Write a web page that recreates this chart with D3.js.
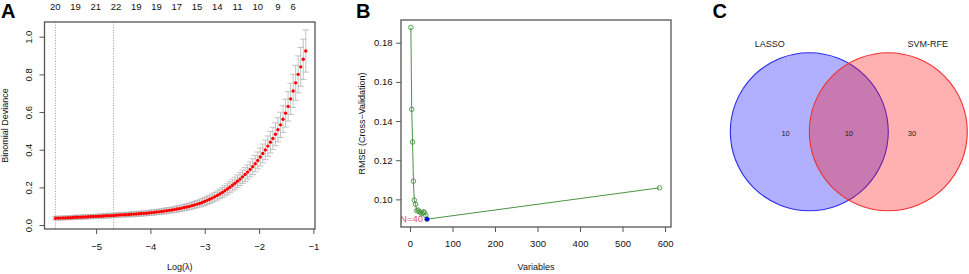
<!DOCTYPE html>
<html>
<head>
<meta charset="utf-8">
<script src="https://cdn.jsdelivr.net/npm/d3@7"></script>
<style>
  body { margin: 0; background: #fff; }
  svg { display: block; font-family: "Liberation Sans", Arial, sans-serif; }
</style>
</head>
<body>
<svg id="fig"></svg>
<script>
const WIDTH = 969;
const HEIGHT = 274;

// ---- panel A: LASSO cross-validation (glmnet) ----
const logLambda = [
  -5.750, -5.703, -5.657, -5.610, -5.564, -5.517, -5.471, -5.424, -5.377, -5.331,
  -5.284, -5.238, -5.191, -5.145, -5.098, -5.051, -5.005, -4.958, -4.912, -4.865,
  -4.819, -4.772, -4.725, -4.679, -4.632, -4.586, -4.539, -4.493, -4.446, -4.399,
  -4.353, -4.306, -4.260, -4.213, -4.167, -4.120, -4.073, -4.027, -3.980, -3.934,
  -3.887, -3.841, -3.794, -3.747, -3.701, -3.654, -3.608, -3.561, -3.515, -3.468,
  -3.421, -3.375, -3.328, -3.282, -3.235, -3.189, -3.142, -3.095, -3.049, -3.002,
  -2.956, -2.909, -2.863, -2.816, -2.769, -2.723, -2.676, -2.630, -2.583, -2.537,
  -2.490, -2.443, -2.397, -2.350, -2.304, -2.257, -2.211, -2.164, -2.117, -2.071,
  -2.024, -1.978, -1.931, -1.885, -1.838, -1.791, -1.745, -1.698, -1.652, -1.605,
  -1.559, -1.512, -1.465, -1.419, -1.372, -1.326, -1.279, -1.233, -1.186, -1.140,
];
const deviance = [
  0.036, 0.037, 0.037, 0.038, 0.038, 0.039, 0.039, 0.040, 0.041, 0.041,
  0.042, 0.043, 0.043, 0.044, 0.045, 0.045, 0.046, 0.047, 0.047, 0.048,
  0.049, 0.050, 0.050, 0.051, 0.052, 0.053, 0.054, 0.055, 0.055, 0.056,
  0.057, 0.058, 0.059, 0.060, 0.061, 0.062, 0.063, 0.064, 0.066, 0.067,
  0.069, 0.070, 0.072, 0.074, 0.076, 0.078, 0.080, 0.082, 0.085, 0.087,
  0.090, 0.093, 0.096, 0.099, 0.103, 0.107, 0.111, 0.115, 0.120, 0.125,
  0.131, 0.137, 0.143, 0.150, 0.157, 0.165, 0.173, 0.182, 0.191, 0.201,
  0.211, 0.222, 0.233, 0.244, 0.256, 0.268, 0.281, 0.295, 0.310, 0.326,
  0.343, 0.361, 0.380, 0.399, 0.419, 0.440, 0.460, 0.482, 0.506, 0.532,
  0.562, 0.594, 0.630, 0.670, 0.712, 0.755, 0.800, 0.840, 0.880, 0.924,
];
const devianceSE = [
  0.010, 0.010, 0.010, 0.010, 0.010, 0.010, 0.010, 0.011, 0.011, 0.011,
  0.011, 0.011, 0.011, 0.011, 0.011, 0.011, 0.011, 0.011, 0.011, 0.012,
  0.012, 0.012, 0.012, 0.012, 0.012, 0.012, 0.012, 0.012, 0.012, 0.012,
  0.013, 0.013, 0.013, 0.013, 0.013, 0.013, 0.013, 0.013, 0.014, 0.014,
  0.014, 0.014, 0.014, 0.015, 0.015, 0.015, 0.015, 0.015, 0.016, 0.016,
  0.016, 0.017, 0.017, 0.017, 0.018, 0.018, 0.019, 0.019, 0.020, 0.020,
  0.021, 0.022, 0.022, 0.023, 0.024, 0.025, 0.026, 0.027, 0.028, 0.029,
  0.030, 0.032, 0.033, 0.034, 0.035, 0.037, 0.038, 0.040, 0.042, 0.043,
  0.045, 0.048, 0.050, 0.052, 0.054, 0.057, 0.059, 0.061, 0.064, 0.067,
  0.071, 0.074, 0.078, 0.083, 0.088, 0.093, 0.098, 0.103, 0.107, 0.112,
];
const lambdaMin = -5.750;
const lambda1se = -4.679;
const nzeroAt = [-5.750, -5.377, -5.005, -4.632, -4.260, -3.887, -3.515, -3.142, -2.769, -2.397, -2.024, -1.652, -1.372];
const nzeroLabels = ["20", "19", "21", "22", "19", "19", "17", "15", "14", "11", "10", "9", "6"];
const xTicksA = [-5, -4, -3, -2, -1];
const yTicksA = [0, 0.2, 0.4, 0.6, 0.8, 1.0];

// ---- panel B: SVM-RFE ----
const rfeVariables = [2, 4, 6, 8, 10, 13, 16, 19, 22, 25, 28, 31, 34, 37, 40, 587];
const rfeRMSE = [0.1878, 0.1460, 0.1293, 0.1093, 0.0996, 0.0975, 0.0942, 0.0945, 0.0937, 0.0932, 0.0928, 0.0936, 0.0933, 0.0918, 0.0899, 0.1059];
const xTicksB = [0, 100, 200, 300, 400, 500, 600];
const yTicksB = [0.10, 0.12, 0.14, 0.16, 0.18];

// ---- panel C: Venn ----
const vennSets = ["LASSO", "SVM-RFE"];
const vennCounts = [10, 10, 30]; // LASSO only, both, SVM-RFE only

const FONT = 9;
const TICK_FONT = 9.5;
const AXIS_COL = "#555";
const TEXT_COL = "#111";

const svg = d3.select("#fig").attr("width", WIDTH).attr("height", HEIGHT);

function panelLetter(x, t) {
  svg.append("text").attr("x", x).attr("y", 18).attr("font-size", 20)
    .attr("font-weight", "bold").attr("fill", "#000").text(t);
}

function box(b) {
  svg.append("rect").attr("x", b.left).attr("y", b.top)
    .attr("width", b.right - b.left).attr("height", b.bottom - b.top)
    .attr("fill", "none").attr("stroke", AXIS_COL).attr("stroke-width", 1.3);
}

function styleAxis(g) {
  g.select(".domain").remove();
  g.selectAll(".tick line").attr("stroke", AXIS_COL).attr("stroke-width", 1);
  g.selectAll(".tick text").attr("fill", TEXT_COL).attr("font-size", TICK_FONT);
  g.attr("font-family", null);
}

// ================= A =================
const A = { left: 44.5, right: 315, top: 22, bottom: 229 };
const xA = d3.scaleLinear([-5.95, -0.97], [A.left, A.right]);
const yA = d3.scaleLinear([-0.021, 1.078], [A.bottom, A.top]);
panelLetter(1, "A");

const gA = svg.append("g");
gA.selectAll(".vline").data([lambdaMin, lambda1se]).join("line")
  .attr("x1", d => xA(d)).attr("x2", d => xA(d))
  .attr("y1", A.top).attr("y2", A.bottom)
  .attr("stroke", "#888").attr("stroke-width", 0.9).attr("stroke-dasharray", "1,1.6");

const cvA = logLambda.map((x, i) => ({ x, y: deviance[i], se: devianceSE[i] }));
const capW = 0.06;
const bars = gA.append("g").attr("stroke", "#b4b4b4").attr("stroke-width", 0.8);
bars.selectAll(".eb").data(cvA).join("line")
  .attr("x1", d => xA(d.x)).attr("x2", d => xA(d.x))
  .attr("y1", d => yA(d.y + d.se)).attr("y2", d => yA(d.y - d.se));
bars.selectAll(".cu").data(cvA).join("line")
  .attr("x1", d => xA(d.x - capW)).attr("x2", d => xA(d.x + capW))
  .attr("y1", d => yA(d.y + d.se)).attr("y2", d => yA(d.y + d.se));
bars.selectAll(".cl").data(cvA).join("line")
  .attr("x1", d => xA(d.x - capW)).attr("x2", d => xA(d.x + capW))
  .attr("y1", d => yA(d.y - d.se)).attr("y2", d => yA(d.y - d.se));
gA.selectAll(".pt").data(cvA).join("circle")
  .attr("cx", d => xA(d.x)).attr("cy", d => yA(d.y)).attr("r", 1.7).attr("fill", "#f00");

box(A);

gA.append("g").attr("transform", `translate(0,${A.bottom})`)
  .call(d3.axisBottom(xA).tickValues(xTicksA).tickSize(5).tickPadding(9.3).tickFormat(d3.format("d")))
  .call(styleAxis);

const yAxA = gA.append("g").attr("transform", `translate(${A.left},0)`)
  .call(d3.axisLeft(yA).tickValues(yTicksA).tickSize(5).tickFormat(d3.format(".1f")))
  .call(styleAxis);
yAxA.selectAll(".tick text")
  .attr("x", null).attr("dy", null)
  .attr("text-anchor", "middle")
  .attr("transform", `translate(${31.8 - A.left},0) rotate(-90)`);

gA.selectAll(".nz").data(nzeroAt).join("text")
  .attr("x", d => xA(d)).attr("y", 9.5).attr("text-anchor", "middle")
  .attr("font-size", TICK_FONT).attr("fill", TEXT_COL)
  .text((d, i) => nzeroLabels[i]);

gA.append("text").attr("x", (A.left + A.right) / 2).attr("y", 270)
  .attr("text-anchor", "middle").attr("font-size", FONT).attr("fill", TEXT_COL).text("Log(λ)");
gA.append("text").attr("transform", `translate(8.2,${(A.top + A.bottom) / 2}) rotate(-90)`)
  .attr("text-anchor", "middle").attr("font-size", FONT).attr("fill", TEXT_COL).text("Binomial Deviance");

// ================= B =================
const B = { left: 401, right: 671, top: 20, bottom: 227 };
const xB = d3.scaleLinear([-21.2, 614], [B.left, B.right]);
const yB = d3.scaleLinear([0.0859, 0.1916], [B.bottom, B.top]);
panelLetter(356, "B");

svg.append("clipPath").attr("id", "clipB").append("rect")
  .attr("x", B.left).attr("y", B.top).attr("width", B.right - B.left).attr("height", B.bottom - B.top);
const gB = svg.append("g");
const plotB = gB.append("g").attr("clip-path", "url(#clipB)");
const rfe = rfeVariables.map((v, i) => ({ v, r: rfeRMSE[i] }));
const GREEN = "#4a9442";
plotB.append("path").datum(rfe)
  .attr("d", d3.line().x(d => xB(d.v)).y(d => yB(d.r)))
  .attr("fill", "none").attr("stroke", GREEN).attr("stroke-width", 1);
plotB.selectAll(".rp").data(rfe).join("circle")
  .attr("cx", d => xB(d.v)).attr("cy", d => yB(d.r)).attr("r", 2.3)
  .attr("fill", "none").attr("stroke", GREEN).attr("stroke-width", 0.9);

const best = rfe[d3.minIndex(rfe, d => d.r)];
plotB.append("circle").attr("cx", xB(best.v)).attr("cy", yB(best.r)).attr("r", 2.2).attr("fill", "#00f");
plotB.append("text").attr("x", xB(best.v) - 4).attr("y", yB(best.r) + 3.2)
  .attr("text-anchor", "end").attr("font-size", TICK_FONT).attr("fill", "#DF536B").text(`N=${best.v}`);

box(B);

gB.append("g").attr("transform", `translate(0,${B.bottom})`)
  .call(d3.axisBottom(xB).tickValues(xTicksB).tickSize(5).tickPadding(8.3).tickFormat(d3.format("d")))
  .call(styleAxis);
gB.append("g").attr("transform", `translate(${B.left},0)`)
  .call(d3.axisLeft(yB).tickValues(yTicksB).tickSize(5).tickPadding(3.5).tickFormat(d3.format(".2f")))
  .call(styleAxis);

gB.append("text").attr("x", (B.left + B.right) / 2).attr("y", 270)
  .attr("text-anchor", "middle").attr("font-size", FONT).attr("fill", TEXT_COL).text("Variables");
gB.append("text").attr("transform", `translate(364.8,${(B.top + B.bottom) / 2}) rotate(-90)`)
  .attr("text-anchor", "middle").attr("font-size", FONT).attr("fill", TEXT_COL).text("RMSE (Cross−Validation)");

// ================= C =================
panelLetter(712.5, "C");
const gC = svg.append("g");
const vx = d3.scaleLinear([0, 1], [809.3, 888.3]);
const R = 79;
const CY = 131.7;
const vennCols = [
  { fill: "#0000ff", stroke: "#2a2af0" },
  { fill: "#ff0000", stroke: "#f03030" },
];
gC.selectAll(".vc").data(vennSets).join("circle")
  .attr("cx", (d, i) => vx(i)).attr("cy", CY).attr("r", R)
  .attr("fill", (d, i) => vennCols[i].fill).attr("fill-opacity", 0.31)
  .attr("stroke", (d, i) => vennCols[i].stroke).attr("stroke-width", 1.1);
gC.selectAll(".vl").data(vennSets).join("text")
  .attr("x", (d, i) => vx(i) + (i === 0 ? -39.5 : 39.5)).attr("y", 47.2)
  .attr("text-anchor", "middle").attr("font-size", FONT).attr("fill", "#222").text(d => d);
const countPos = [-0.3, 0.5, 1.3];
gC.selectAll(".vn").data(vennCounts).join("text")
  .attr("x", (d, i) => vx(countPos[i])).attr("y", 135.5)
  .attr("text-anchor", "middle").attr("font-size", 7.5).attr("fill", "#222").text(d => d);
</script>
</body>
</html>
